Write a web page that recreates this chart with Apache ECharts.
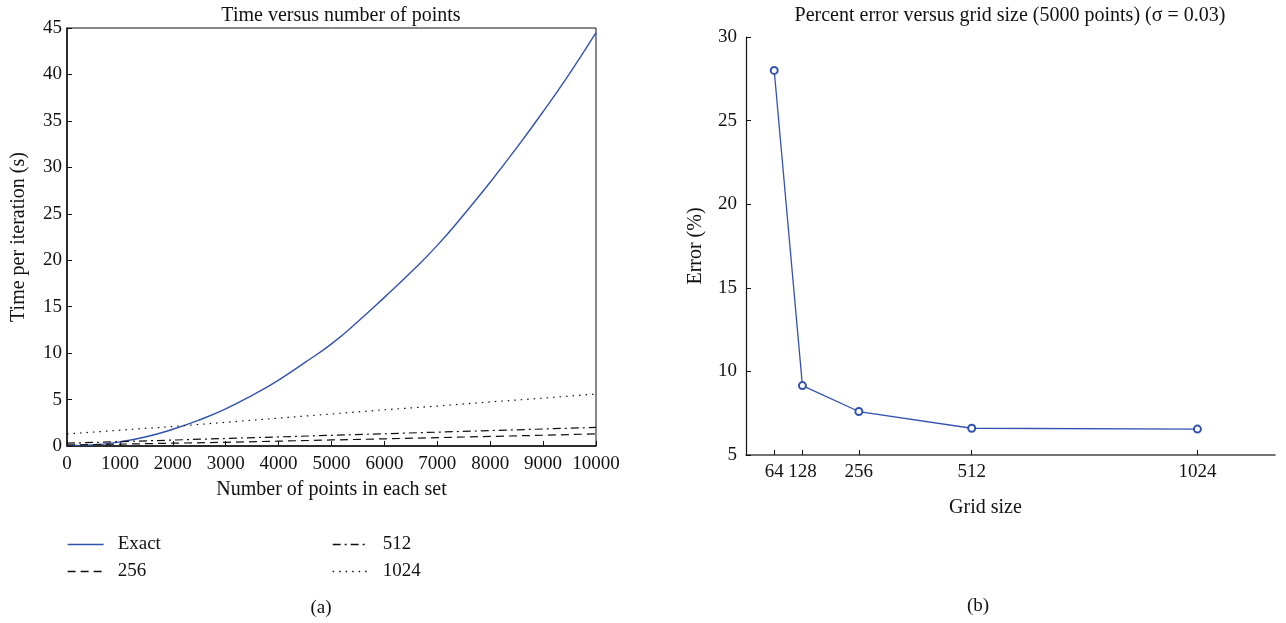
<!DOCTYPE html>
<html>
<head>
<meta charset="utf-8">
<script src="https://cdn.jsdelivr.net/npm/echarts@6/dist/echarts.min.js"></script>
<style>
  html, body { margin: 0; padding: 0; background: #fff; }
  #chart { width: 1286px; height: 623px; }
</style>
</head>
<body>
<div id="chart"></div>
<script>
// (a) time per iteration vs number of points
var nPoints = [0, 500, 1000, 1500, 2000, 2500, 3000, 3500, 4000, 4500, 5000,
  5500, 6000, 6500, 7000, 7500, 8000, 8500, 9000, 9500, 10000];
var exactTime = [0.05, 0.12, 0.45, 1.0, 1.8, 2.8, 4.0, 5.45, 7.1, 9.0, 11.0,
  13.4, 16.0, 18.7, 21.6, 24.9, 28.4, 32.1, 36.0, 40.1, 44.5];
var nPointsCoarse = [0, 1000, 2000, 3000, 4000, 5000, 6000, 7000, 8000, 9000, 10000];
var time256 = [0.1, 0.2, 0.3, 0.4, 0.52, 0.65, 0.77, 0.9, 1.03, 1.16, 1.3];
var time512 = [0.3, 0.47, 0.64, 0.81, 0.98, 1.15, 1.32, 1.49, 1.66, 1.83, 2.0];
var time1024 = [1.3, 1.7, 2.1, 2.55, 3.0, 3.45, 3.9, 4.3, 4.75, 5.15, 5.6];

// (b) percent error vs grid size
var gridSizes = [64, 128, 256, 512, 1024];
var errorPct = [28.0, 9.15, 7.6, 6.6, 6.55];

var blue = '#3352b0';
var font = 'Liberation Serif';

function pairs(xs, ys) {
  return xs.map(function (x, i) { return [x, ys[i]]; });
}
function plain(v) { return String(v); }

var chart = echarts.init(document.getElementById('chart'));
var option = {
  backgroundColor: '#fff',
  animation: false,
  textStyle: { fontFamily: font, color: '#111' },
  title: [
    { text: 'Time versus number of points', left: 336, top: 1, textAlign: 'center',
      textStyle: { fontFamily: font, fontSize: 20, fontWeight: 'normal', color: '#111' } },
    { text: 'Percent error versus grid size (5000 points) (\u03c3 = 0.03)', left: 1005, top: 1, textAlign: 'center',
      textStyle: { fontFamily: font, fontSize: 20, fontWeight: 'normal', color: '#111' } },
    { text: '(a)', left: 316, top: 594, textAlign: 'center',
      textStyle: { fontFamily: font, fontSize: 19, fontWeight: 'normal', color: '#111' } },
    { text: '(b)', left: 973, top: 592, textAlign: 'center',
      textStyle: { fontFamily: font, fontSize: 19, fontWeight: 'normal', color: '#111' } }
  ],
  legend: [
    { data: ['Exact', '256'], orient: 'vertical', left: 67, top: 535, padding: 0,
      itemWidth: 36, itemHeight: 12, itemGap: 8,
      itemStyle: { opacity: 0 }, lineStyle: { width: 1.3 },
      textStyle: { fontFamily: font, fontSize: 19, color: '#111', padding: [0, 0, 0, 9] } },
    { data: ['512', '1024'], orient: 'vertical', left: 332, top: 535, padding: 0,
      itemWidth: 36, itemHeight: 12, itemGap: 8,
      itemStyle: { opacity: 0 }, lineStyle: { width: 1.3 },
      textStyle: { fontFamily: font, fontSize: 19, color: '#111', padding: [0, 0, 0, 9] } }
  ],
  grid: [
    { left: 67, top: 28, width: 529, height: 418, show: true, borderColor: '#111', borderWidth: 1 },
    { left: 746, top: 37, width: 529, height: 418 }
  ],
  xAxis: [
    {
      gridIndex: 0, type: 'value', min: 0, max: 10000, interval: 1000,
      name: 'Number of points in each set', nameLocation: 'middle', nameGap: 34,
      nameTextStyle: { fontFamily: font, fontSize: 20, color: '#111' },
      axisLine: { lineStyle: { color: '#111', width: 1.5 } },
      axisTick: { inside: true, length: 5, lineStyle: { color: '#111' } },
      axisLabel: { fontFamily: font, fontSize: 19, color: '#111', margin: 9, formatter: plain },
      splitLine: { show: false }
    },
    {
      gridIndex: 1, type: 'value', min: 0, max: 1200,
      name: 'Grid size', nameLocation: 'middle', nameGap: 43,
      nameTextStyle: { fontFamily: font, fontSize: 20, color: '#111', padding: [0, 50, 0, 0] },
      axisLine: { lineStyle: { color: '#444', width: 1.5 } },
      axisTick: { inside: true, length: 5, customValues: gridSizes, lineStyle: { color: '#111' } },
      axisLabel: { fontFamily: font, fontSize: 19, color: '#111', margin: 8, customValues: gridSizes, formatter: plain },
      splitLine: { show: false }
    }
  ],
  yAxis: [
    {
      gridIndex: 0, type: 'value', min: 0, max: 45, interval: 5,
      name: 'Time per iteration (s)', nameLocation: 'middle', nameGap: 38,
      nameTextStyle: { fontFamily: font, fontSize: 20, color: '#111' },
      axisLine: { show: true, lineStyle: { color: '#111', width: 1.5 } },
      axisTick: { show: true, inside: true, length: 5, lineStyle: { color: '#111' } },
      axisLabel: { fontFamily: font, fontSize: 19, color: '#111', margin: 5 },
      splitLine: { show: false }
    },
    {
      gridIndex: 1, type: 'value', min: 5, max: 30, interval: 5,
      name: 'Error (%)', nameLocation: 'middle', nameGap: 40,
      nameTextStyle: { fontFamily: font, fontSize: 20, color: '#111' },
      axisLine: { show: true, lineStyle: { color: '#111', width: 1.2 } },
      axisTick: { show: true, inside: true, length: 5, lineStyle: { color: '#111' } },
      axisLabel: { fontFamily: font, fontSize: 19, color: '#111', margin: 9 },
      splitLine: { show: false }
    }
  ],
  series: [
    { name: 'Exact', type: 'line', xAxisIndex: 0, yAxisIndex: 0, smooth: true, symbol: 'none',
      lineStyle: { color: blue, width: 1.4 }, itemStyle: { color: blue },
      data: pairs(nPoints, exactTime) },
    { name: '256', type: 'line', xAxisIndex: 0, yAxisIndex: 0, symbol: 'none',
      lineStyle: { color: '#111', width: 1.2, type: [8, 5] }, itemStyle: { color: '#111' },
      data: pairs(nPointsCoarse, time256) },
    { name: '512', type: 'line', xAxisIndex: 0, yAxisIndex: 0, symbol: 'none',
      lineStyle: { color: '#111', width: 1.2, type: [8, 4, 2, 4] }, itemStyle: { color: '#111' },
      data: pairs(nPointsCoarse, time512) },
    { name: '1024', type: 'line', xAxisIndex: 0, yAxisIndex: 0, symbol: 'none',
      lineStyle: { color: '#111', width: 1.2, type: [1.5, 5] }, itemStyle: { color: '#111' },
      data: pairs(nPointsCoarse, time1024) },
    { name: 'Error', type: 'line', xAxisIndex: 1, yAxisIndex: 1, symbol: 'emptyCircle', symbolSize: 7,
      lineStyle: { color: blue, width: 1.3 }, itemStyle: { color: blue, borderWidth: 1.2 },
      data: pairs(gridSizes, errorPct) }
  ]
};
chart.setOption(option);
</script>
</body>
</html>
